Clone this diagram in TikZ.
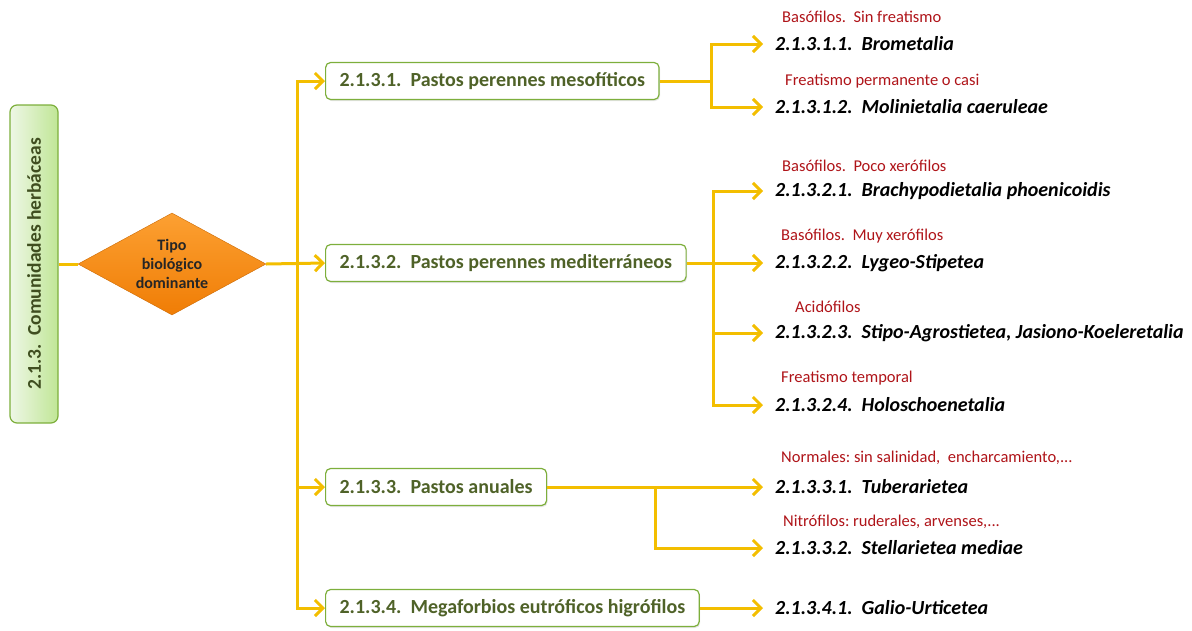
\documentclass[tikz,border=0pt]{standalone}
\usepackage{fontspec}
\setmainfont{Carlito}
\usetikzlibrary{shapes.geometric, arrows.meta, positioning, calc, shadows}
\definecolor{linkyellow}{RGB}{243,190,0}
\definecolor{boxgreen}{RGB}{125,175,60}
\definecolor{textolive}{RGB}{79,98,40}
\definecolor{notered}{RGB}{175,20,25}
\definecolor{diamondorange}{RGB}{240,125,5}
\definecolor{diamondlight}{RGB}{252,160,50}
\definecolor{sidegreenlight}{RGB}{238,247,230}
\definecolor{sidegreen}{RGB}{192,230,150}
\frenchspacing

\begin{document}
\begin{tikzpicture}[x=1pt, y=-1pt,
    groupbox/.style={rectangle, draw=boxgreen, line width=1.2pt, rounded corners=5pt, fill=white,
                 minimum height=37pt, inner xsep=14pt, anchor=west, text=textolive,
                 font=\fontsize{20}{24}\selectfont\bfseries,
                 drop shadow={opacity=0.2, shadow xshift=1pt, shadow yshift=-1.5pt}},
    leaf/.style={anchor=west, inner xsep=12pt, font=\fontsize{20}{24}\selectfont\bfseries\itshape},
    note/.style={anchor=west, inner sep=0pt, text=notered, font=\fontsize{16.5}{19}\selectfont},
    link/.style={draw=linkyellow, line width=3pt},
    arrowlink/.style={link, -{Straight Barb[length=8pt, width=16pt]}}
]
    \useasboundingbox (0,0) rectangle (1192,630);

    % root and decision
    \node[rectangle, rotate=90, draw=boxgreen, line width=1.2pt, rounded corners=7pt,
          left color=sidegreenlight, right color=sidegreen, minimum width=318pt, minimum height=48pt,
          text=textolive!80!black, font=\fontsize{19.5}{22}\selectfont\bfseries] (root) at (34,264)
          {2.1.3.\ \ Comunidades herbáceas};
    \node[diamond, aspect=1.85, minimum width=188pt, minimum height=102pt, inner sep=0pt,
          top color=diamondlight, bottom color=diamondorange, draw=diamondorange!85!black,
          align=center, text=black!85, font=\fontsize{16}{19}\selectfont\bfseries] (tipo) at (172,264)
          {Tipo\\biológico\\dominante};

    % groups
    \node[groupbox] (b1) at (325,81) {2.1.3.1.\ \ Pastos perennes mesofíticos};
    \node[groupbox] (b2) at (325,263) {2.1.3.2.\ \ Pastos perennes mediterráneos};
    \node[groupbox] (b3) at (325,487) {2.1.3.3.\ \ Pastos anuales};
    \node[groupbox] (b4) at (325,608) {2.1.3.4.\ \ Megaforbios eutróficos higrófilos};

    % leaves
    \node[leaf] (l311) at (763,44) {2.1.3.1.1.\ \ Brometalia};
    \node[leaf] (l312) at (763,107) {2.1.3.1.2.\ \ Molinietalia caeruleae};
    \node[leaf] (l321) at (763,191) {2.1.3.2.1.\ \ Brachypodietalia phoenicoidis};
    \node[leaf] (l322) at (763,263) {2.1.3.2.2.\ \ Lygeo-Stipetea};
    \node[leaf] (l323) at (763,333) {2.1.3.2.3.\ \ Stipo-Agrostietea, Jasiono-Koeleretalia};
    \node[leaf] (l324) at (763,405) {2.1.3.2.4.\ \ Holoschoenetalia};
    \node[leaf] (l331) at (763,487) {2.1.3.3.1.\ \ Tuberarietea};
    \node[leaf] (l332) at (763,548) {2.1.3.3.2.\ \ Stellarietea mediae};
    \node[leaf] (l341) at (763,608) {2.1.3.4.1.\ \ Galio-Urticetea};

    \node[note] (n311) at (782,17) {Basófilos.\ \ Sin freatismo};
    \node[note] (n312) at (785,81) {Freatismo permanente o casi};
    \node[note] (n321) at (782,166) {Basófilos.\ \ Poco xerófilos};
    \node[note] (n322) at (781,236) {Basófilos.\ \ Muy xerófilos};
    \node[note] (n323) at (795,307) {Acidófilos};
    \node[note] (n324) at (781,378) {Freatismo temporal};
    \node[note] (n331) at (781,458) {Normales: sin salinidad,\ \ encharcamiento,...};
    \node[note] (n332) at (783,522) {Nitrófilos: ruderales, arvenses,...};

    \coordinate (trunk) at (297,264);
    \coordinate (j1) at (711,81);
    \coordinate (j2) at (713,263);
    \coordinate (j3) at (655,487);

    \draw[link] (root.south) -- (tipo.west);
    \draw[arrowlink] (tipo.east) -- (b2.west);
    \draw[arrowlink] (trunk) |- (b1.west);
    \draw[arrowlink] (trunk) |- (b3.west);
    \draw[arrowlink] (trunk) |- (b4.west);

    \draw[link] (b1.east) -- (j1);
    \draw[arrowlink] (j1) |- (l311.west);
    \draw[arrowlink] (j1) |- (l312.west);

    \draw[arrowlink] (b2.east) -- (l322.west);
    \draw[arrowlink] (j2) |- (l321.west);
    \draw[arrowlink] (j2) |- (l323.west);
    \draw[arrowlink] (j2) |- (l324.west);

    \draw[arrowlink] (b3.east) -- (l331.west);
    \draw[arrowlink] (j3) |- (l332.west);

    \draw[arrowlink] (b4.east) -- (l341.west);
\end{tikzpicture}
\end{document}
